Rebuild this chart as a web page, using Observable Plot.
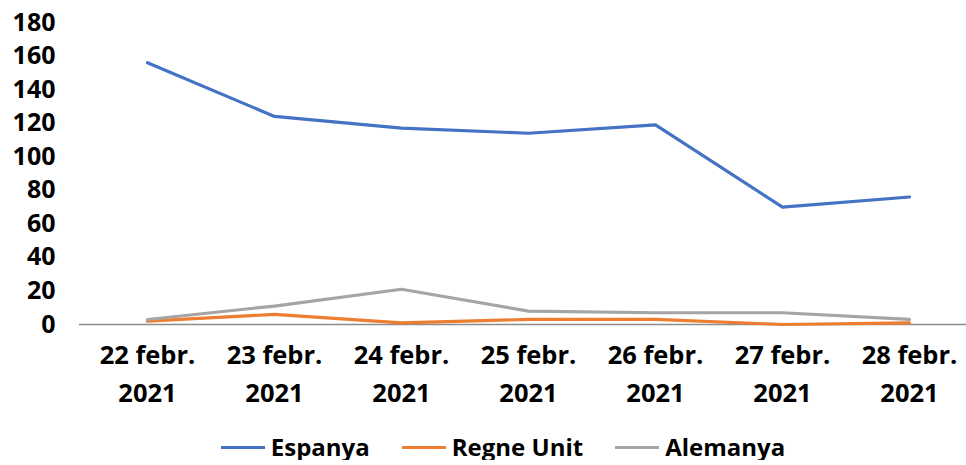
<!DOCTYPE html>
<html>
<head>
<meta charset="utf-8">
<script src="https://cdn.jsdelivr.net/npm/d3@7"></script>
<script src="https://cdn.jsdelivr.net/npm/@observablehq/plot@0.6"></script>
<style>
  body { margin: 0; background: #fff; font-family: "Open Sans", sans-serif; overflow: hidden; }
  #legend { display: flex; justify-content: center; align-items: center; font-weight: 700; font-size: 24px; line-height: 26px; color: #000; height: 26px; margin-left: 40px; margin-top: 6px; }
  .item { display: flex; align-items: center; margin: 0 16px; }
  .sw { width: 44px; height: 3px; margin-right: 6px; }
</style>
</head>
<body>
<div id="chart"></div>
<div id="legend"></div>
<script>
const dates = ["22 febr.\n2021", "23 febr.\n2021", "24 febr.\n2021", "25 febr.\n2021", "26 febr.\n2021", "27 febr.\n2021", "28 febr.\n2021"];
const seriesNames = ["Espanya", "Regne Unit", "Alemanya"];
const espanya = [156, 124, 117, 114, 119, 70, 76];
const regneUnit = [2, 6, 1, 3, 3, 0, 1];
const alemanya = [3, 11, 21, 8, 7, 7, 3];
const colors = ["#4472C4", "#ED7D31", "#A5A5A5"];
const yTicks = [0, 20, 40, 60, 80, 100, 120, 140, 160, 180];

const valuesBySeries = [espanya, regneUnit, alemanya];
const data = [];
seriesNames.forEach((s, i) => dates.forEach((d, j) => data.push({series: s, date: d, value: valuesBySeries[i][j]})));

const chart = Plot.plot({
  width: 966,
  height: 428,
  marginLeft: 79,
  marginRight: 0,
  marginTop: 22,
  marginBottom: 104,
  style: {fontFamily: "'Open Sans', sans-serif", fontWeight: 700, color: "#000", background: "#fff", display: "block"},
  x: {type: "point", domain: dates, padding: 0.465, align: 0.54},
  y: {domain: [0, 180]},
  color: {domain: seriesNames, range: colors},
  marks: [
    Plot.ruleY([0], {stroke: "#8c8c8c", strokeWidth: 1.3}),
    Plot.line(data, {x: "date", y: "value", z: "series", stroke: "series", strokeWidth: 3.2, strokeLinejoin: "round", strokeLinecap: "round"}),
    Plot.axisY({ticks: yTicks, tickSize: 0, tickPadding: 24, fontSize: 25, fontWeight: 700, label: null}),
    Plot.axisX({tickSize: 0, tickPadding: 13, fontSize: 25.5, fontWeight: 700, lineHeight: 1.49, label: null})
  ]
});
document.getElementById("chart").appendChild(chart);

const legend = document.getElementById("legend");
seriesNames.forEach((s, i) => {
  const it = document.createElement("div");
  it.className = "item";
  const sw = document.createElement("span");
  sw.className = "sw";
  sw.style.background = colors[i];
  const t = document.createElement("span");
  t.textContent = s;
  it.appendChild(sw); it.appendChild(t);
  legend.appendChild(it);
});
</script>
</body>
</html>
